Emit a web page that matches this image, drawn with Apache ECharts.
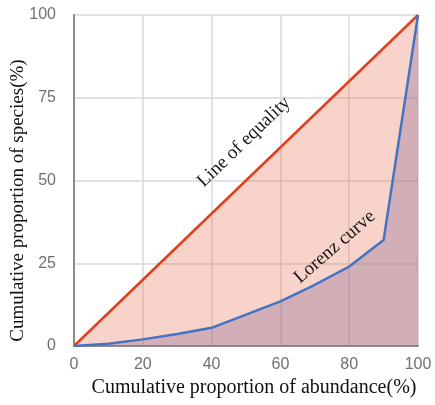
<!DOCTYPE html>
<html>
<head>
<meta charset="utf-8">
<script src="https://cdn.jsdelivr.net/npm/echarts@6/dist/echarts.min.js"></script>
<style>
  html, body { margin: 0; padding: 0; background: #ffffff; }
  #chart { width: 435px; height: 405px; }
</style>
</head>
<body>
<div id="chart"></div>
<script>
// Cumulative proportion of abundance (%) at each step
const abundance = [0, 10, 20, 30, 40, 50, 60, 70, 80, 90, 100];
// Cumulative proportion of species (%) — Lorenz curve
const speciesShare = [0, 0.7, 2, 3.6, 5.5, 9.5, 13.5, 18.5, 24, 32, 100];
// Line of perfect equality
const equalityX = [0, 100];
const equalityY = [0, 100];
// Axis ticks
const xTicks = [0, 20, 40, 60, 80, 100];
const yTicks = [0, 25, 50, 75, 100];

const lorenzData = abundance.map((x, i) => [x, speciesShare[i]]);
const equalityData = equalityX.map((x, i) => [x, equalityY[i]]);

const chart = echarts.init(document.getElementById('chart'), null, { renderer: 'canvas' });

const serif = '"Liberation Serif", "DejaVu Serif", serif';
const sans = '"Liberation Sans", Arial, sans-serif';

chart.setOption({
  animation: false,
  backgroundColor: '#ffffff',
  grid: { left: 74, right: 17, top: 15, bottom: 59, containLabel: false, outerBoundsMode: 'none' },
  xAxis: {
    type: 'value',
    min: xTicks[0],
    max: xTicks[xTicks.length - 1],
    interval: xTicks[1] - xTicks[0],
    name: 'Cumulative proportion of abundance(%)',
    nameLocation: 'middle',
    nameGap: 30,
    nameTextStyle: { fontFamily: serif, fontSize: 20, color: '#111111', padding: [0, 0, 0, 16] },
    axisLine: { show: true, lineStyle: { color: '#8c8c8c', width: 2 } },
    axisTick: { show: false },
    axisLabel: { fontFamily: sans, fontSize: 16, color: '#707070', margin: 11 },
    splitLine: { show: true, lineStyle: { color: '#d9d9d9', width: 1.5 } }
  },
  yAxis: {
    type: 'value',
    min: yTicks[0],
    max: yTicks[yTicks.length - 1],
    interval: yTicks[1] - yTicks[0],
    name: 'Cumulative proportion of species(%)',
    nameLocation: 'middle',
    nameGap: 46,
    nameMoveOverlap: false,
    nameTextStyle: { fontFamily: serif, fontSize: 19, color: '#111111', padding: [0, 40, 0, 0] },
    axisLine: { show: true, lineStyle: { color: '#8c8c8c', width: 2 } },
    axisTick: { show: false },
    axisLabel: { fontFamily: sans, fontSize: 16, color: '#707070', margin: 18 },
    splitLine: { show: true, lineStyle: { color: '#d9d9d9', width: 1.5 } }
  },
  series: [
    {
      name: 'Line of equality',
      type: 'line',
      data: equalityData,
      showSymbol: false,
      lineStyle: { color: '#e0401f', width: 2.5 },
      areaStyle: { color: 'rgba(230,115,88,0.45)', origin: 'start' },
      z: 2
    },
    {
      name: 'Lorenz curve',
      type: 'line',
      data: lorenzData,
      showSymbol: false,
      lineStyle: { color: '#4472c4', width: 2.5, join: 'round' },
      areaStyle: { color: 'rgba(138,104,146,0.48)', origin: 'start' },
      z: 3
    }
  ]
});

// Curve captions placed along the lines, in data coordinates
function caption(text, at, angleDeg) {
  const p = chart.convertToPixel({ gridIndex: 0 }, at);
  return {
    type: 'text',
    x: p[0],
    y: p[1],
    rotation: angleDeg * Math.PI / 180,
    style: {
      text: text,
      fontFamily: serif,
      fontSize: 19,
      fill: '#1a1a1a',
      align: 'center',
      verticalAlign: 'middle'
    },
    z: 10
  };
}

chart.setOption({
  graphic: [
    caption('Line of equality', [49.4, 61.6], 44),
    caption('Lorenz curve', [75.8, 29.9], 41)
  ]
});
</script>
</body>
</html>
